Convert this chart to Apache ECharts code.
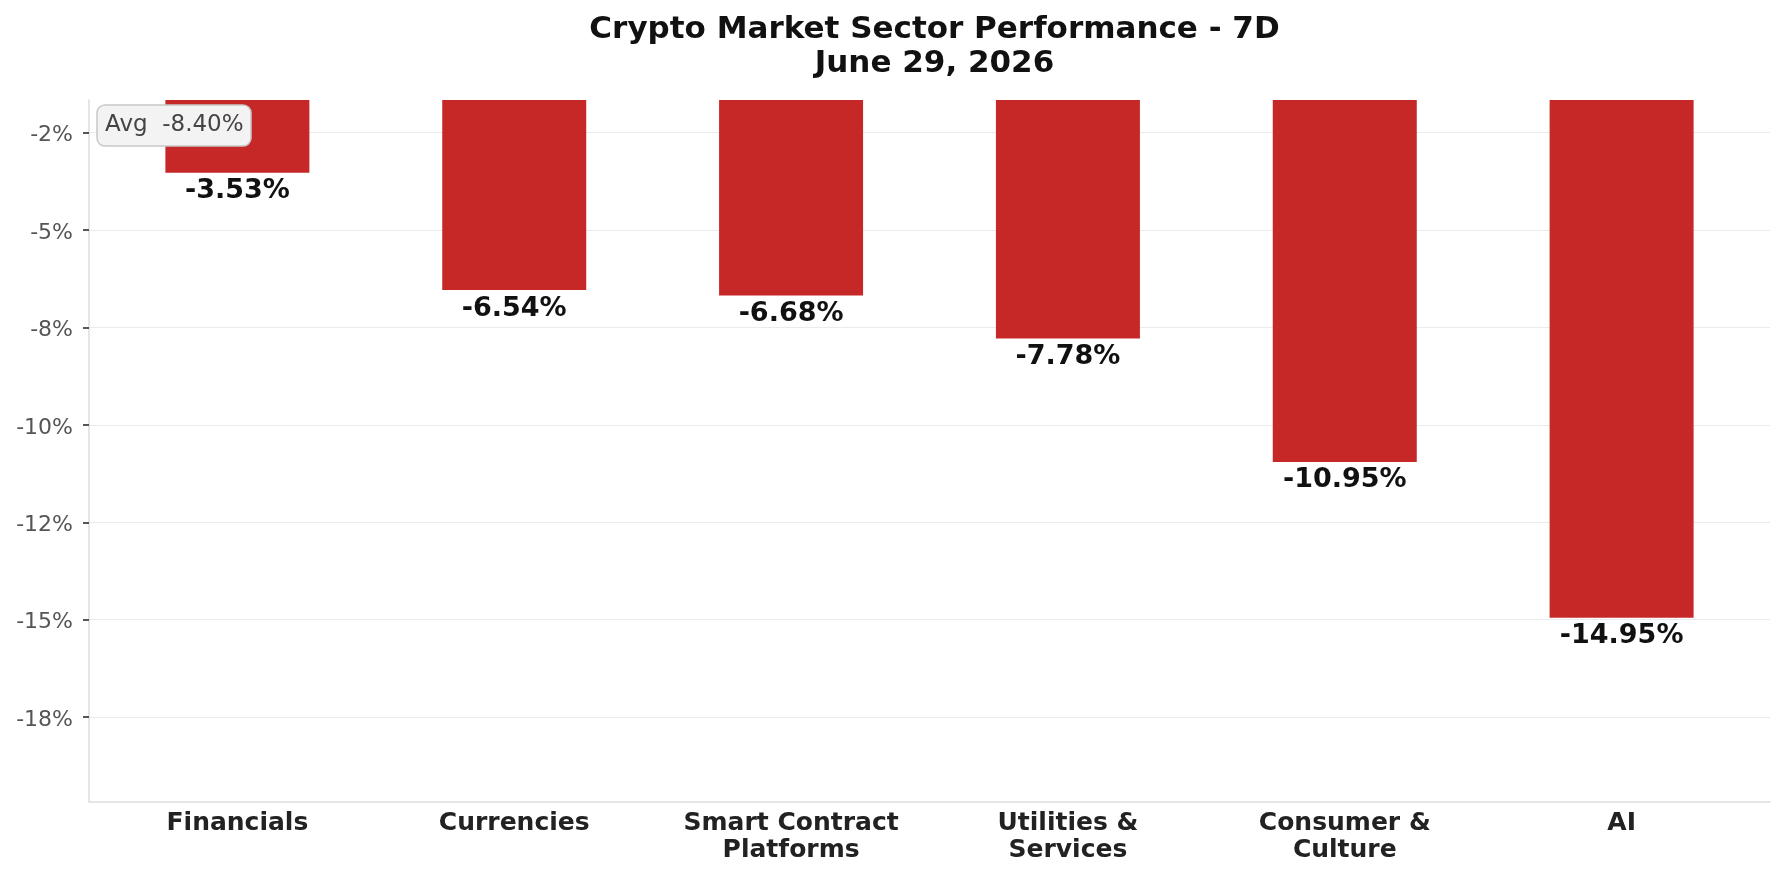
<!DOCTYPE html>
<html>
<head>
<meta charset="utf-8">
<script src="https://cdn.jsdelivr.net/npm/echarts@6/dist/echarts.min.js"></script>
<style>
  html, body { margin: 0; padding: 0; background: #ffffff; }
  #chart { width: 1785px; height: 876px; }
</style>
</head>
<body>
<div id="chart"></div>
<script>
const categories = ['Financials', 'Currencies', 'Smart Contract\nPlatforms', 'Utilities &\nServices', 'Consumer &\nCulture', 'AI'];
const values = [-3.53, -6.54, -6.68, -7.78, -10.95, -14.95];
const tickValues = [-2.5, -5, -7.5, -10, -12.5, -15, -17.5];
const tickLabels = ['-2%', '-5%', '-8%', '-10%', '-12%', '-15%', '-18%'];
const avgValue = -8.40;
const titleText = 'Crypto Market Sector Performance - 7D\nJune 29, 2026';

const FONT = '"DejaVu Sans", sans-serif';
const chart = echarts.init(document.getElementById('chart'), null, { renderer: 'canvas' });

const barData = values.map((v, i) => [i, v]);
const catIdx = categories.map((c, i) => i);

chart.setOption({
  animation: false,
  backgroundColor: '#ffffff',
  title: [{
    text: titleText,
    left: 929.5,
    top: 8,
    textAlign: 'center',
    textStyle: { fontFamily: FONT, fontSize: 31, fontWeight: 'bold', color: '#111111', lineHeight: 34 }
  }, {
    text: 'Avg  ' + avgValue.toFixed(2) + '%',
    left: 97,
    top: 105,
    padding: [7, 8, 8, 8],
    backgroundColor: '#f3f3f3',
    borderColor: '#c8c8c8',
    borderWidth: 1.5,
    borderRadius: 8,
    textStyle: { fontFamily: FONT, fontSize: 23, fontWeight: 'normal', color: '#444444', lineHeight: 26 }
  }],
  grid: { left: 89, right: 15, top: 100, bottom: 74, containLabel: false },
  xAxis: {
    type: 'value',
    min: -0.536,
    max: 5.536,
    splitLine: { show: false },
    axisTick: { show: false },
    axisLine: { show: true, onZero: false, lineStyle: { color: '#dddddd', width: 1.5 } },
    axisLabel: {
      customValues: catIdx,
      formatter: v => categories[Math.round(v)],
      fontFamily: FONT, fontSize: 25, fontWeight: 'bold', color: '#222222',
      lineHeight: 27, margin: 8, verticalAlign: 'top'
    }
  },
  yAxis: {
    type: 'value',
    min: -19.68,
    max: -1.66,
    axisLine: { show: true, onZero: false, lineStyle: { color: '#dddddd', width: 1.5 } },
    axisTick: { show: true, inside: false, customValues: tickValues, length: 6, lineStyle: { color: '#444444', width: 1.8 } },
    splitLine: { show: true, lineStyle: { color: '#ebebeb', width: 1.2 } },
    axisLabel: {
      customValues: tickValues,
      formatter: v => {
        const t = tickLabels[tickValues.indexOf(v)];
        return t !== undefined ? '{a|' + t + '}' : '';
      },
      rich: { a: { fontFamily: FONT, fontSize: 22, color: '#555555', padding: [6, 0, 0, 0] } },
      fontFamily: FONT, fontSize: 22, color: '#555555', margin: 16
    }
  },
  series: [{
    type: 'bar',
    data: barData,
    barWidth: 144,
    clip: true,
    itemStyle: { color: '#c62828' },
    label: {
      show: true,
      position: 'bottom',
      distance: 5,
      formatter: p => p.value[1].toFixed(2) + '%',
      fontFamily: FONT, fontSize: 27, fontWeight: 'bold', color: '#111111'
    }
  }]
});
</script>
</body>
</html>
